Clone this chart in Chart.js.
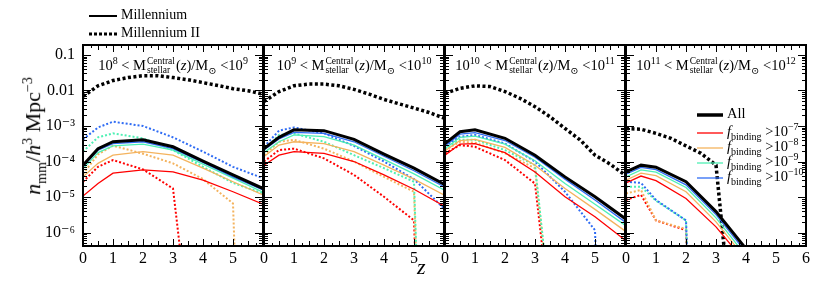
<!DOCTYPE html>
<html>
<head>
<meta charset="utf-8">
<script src="https://cdn.jsdelivr.net/npm/chart.js@4.4.1/dist/chart.umd.min.js"></script>
<style>
  html, body { margin: 0; padding: 0; background: #fff; }
  #wrap { position: relative; width: 831px; height: 283px; overflow: hidden;
          font-family: "Liberation Serif", "DejaVu Serif", serif; color: #000; }
  canvas { position: absolute; top: 0; }
  .plabel { position: absolute; top: 52px; width: 180px; text-align: center; font-size: 14.5px; white-space: nowrap; line-height: 17px; }
  .stack { display: inline-flex; flex-direction: column; vertical-align: middle; font-size: 9.5px; line-height: 9px; margin: 0 1px; text-align: left; position: relative; top: -1px; }
  .plabel sup, .plabel sub { font-size: 10px; }
  #ytitle { position: absolute; left: 35px; top: 136px; transform: translate(-50%, -50%) rotate(-90deg);
            font-size: 22px; white-space: nowrap; }
  #ytitle sub, #ytitle sup { font-size: 14px; }
  #xtitle { position: absolute; left: 417px; top: 254px; font-size: 22px; font-style: italic; }
  .legtop { position: absolute; left: 89px; font-size: 14px; white-space: nowrap; height: 16px; line-height: 16px; }
  .legtop svg, .leg4 svg { vertical-align: middle; margin-right: 4px; }
  .leg4 { position: absolute; left: 697px; font-size: 14.5px; white-space: nowrap; height: 14px; line-height: 14px; }
  .leg4 sub, .leg4 sup { font-size: 10px; }
</style>
</head>
<body>
<div id="wrap">
  <canvas id="c0" width="240" height="283"></canvas>
  <canvas id="c1" width="240" height="283"></canvas>
  <canvas id="c2" width="240" height="283"></canvas>
  <canvas id="c3" width="240" height="283"></canvas>

  <div class="legtop" style="top:7px"><svg width="28" height="6"><line x1="0" y1="3" x2="28" y2="3" stroke="#000" stroke-width="2"/></svg>Millennium</div>
  <div class="legtop" style="top:25px"><svg width="28" height="6"><line x1="0" y1="3" x2="28" y2="3" stroke="#000" stroke-width="3" stroke-dasharray="3 2"/></svg>Millennium II</div>

  <div class="plabel" style="left:83px">10<sup>8</sup> &lt; M<span class="stack"><span>Central</span><span>stellar</span></span>(<i>z</i>)/M<sub>⊙</sub> &lt;10<sup>9</sup></div>
  <div class="plabel" style="left:264px">10<sup>9</sup> &lt; M<span class="stack"><span>Central</span><span>stellar</span></span>(<i>z</i>)/M<sub>⊙</sub> &lt;10<sup>10</sup></div>
  <div class="plabel" style="left:445px">10<sup>10</sup> &lt; M<span class="stack"><span>Central</span><span>stellar</span></span>(<i>z</i>)/M<sub>⊙</sub> &lt;10<sup>11</sup></div>
  <div class="plabel" style="left:626px">10<sup>11</sup> &lt; M<span class="stack"><span>Central</span><span>stellar</span></span>(<i>z</i>)/M<sub>⊙</sub> &lt;10<sup>12</sup></div>

  <div class="leg4" style="top:106px"><svg width="26" height="6"><line x1="0" y1="3" x2="26" y2="3" stroke="#000" stroke-width="3.5"/></svg>All</div>
  <div class="leg4" style="top:120px"><svg width="26" height="6"><line x1="0" y1="3" x2="26" y2="3" stroke="#ff0000" stroke-width="1.3"/></svg><i>f</i><sub>binding</sub> &gt;10<sup>−7</sup></div>
  <div class="leg4" style="top:135px"><svg width="26" height="6"><line x1="0" y1="3" x2="26" y2="3" stroke="#f4b35e" stroke-width="1.3"/></svg><i>f</i><sub>binding</sub> &gt;10<sup>−8</sup></div>
  <div class="leg4" style="top:150px"><svg width="26" height="6"><line x1="0" y1="3" x2="26" y2="3" stroke="#4ef0b4" stroke-width="1.3"/></svg><i>f</i><sub>binding</sub> &gt;10<sup>−9</sup></div>
  <div class="leg4" style="top:165px"><svg width="26" height="6"><line x1="0" y1="3" x2="26" y2="3" stroke="#2f6cf4" stroke-width="1.3"/></svg><i>f</i><sub>binding</sub> &gt;10<sup>−10</sup></div>

  <div id="ytitle"><i>n</i><sub>mm</sub>/<i>h</i><sup>3</sup> Mpc<sup>−3</sup></div>
  <div id="xtitle">z</div>
</div>

<script>
// redshift snapshots
const zM = [0, 0.5, 1, 2, 3, 4, 5, 6];
const zMII = [0, 0.5, 1, 1.5, 2, 2.5, 3, 3.5, 4, 4.5, 5, 5.5, 6];

// one row per panel (stellar mass bins 1e8-1e9, 1e9-1e10, 1e10-1e11, 1e11-1e12)
// zero counts are kept as 1e-30 so the line falls straight off the log axis
const allMII = [
  [6.8e-3, 1.35e-2, 1.9e-2, 2.3e-2, 2.6e-2, 2.6e-2, 2.3e-2, 2.0e-2, 1.66e-2, 1.38e-2, 1.12e-2, 9.8e-3, 7.9e-3],
  [4.9e-3, 9.3e-3, 1.35e-2, 1.51e-2, 1.51e-2, 1.35e-2, 1.07e-2, 7.9e-3, 5.6e-3, 4.2e-3, 3.2e-3, 2.4e-3, 1.66e-3],
  [8.3e-3, 1.15e-2, 1.35e-2, 1.29e-2, 9.3e-3, 6.0e-3, 3.5e-3, 1.82e-3, 8.5e-4, 4.1e-4, 1.51e-4, 8.5e-5, 4.2e-5],
  [8.5e-4, 8.1e-4, 6.2e-4, 4.5e-4, 2.75e-4, 1.7e-4, 7.9e-5, 4e-9],
];
const allM = [
  [7.9e-5, 2.3e-4, 3.6e-4, 4.1e-4, 2.6e-4, 1.02e-4, 4.2e-5, 1.74e-5],
  [2.3e-4, 4.8e-4, 7.8e-4, 7.4e-4, 4.2e-4, 1.62e-4, 6.5e-5, 2.3e-5],
  [3.2e-4, 6.9e-4, 7.8e-4, 4.5e-4, 1.51e-4, 3.7e-5, 1.02e-5, 2.5e-6],
  [5.1e-5, 7.9e-5, 6.9e-5, 2.7e-5, 3.9e-6, 3.5e-7],
];
const m7 = [
  [1.07e-5, 2.4e-5, 4.7e-5, 5.8e-5, 5.1e-5, 3.0e-5, 1.41e-5, 6.3e-6],
  [7.9e-5, 1.51e-4, 1.9e-4, 1.7e-4, 1.0e-4, 4.2e-5, 1.66e-5, 5.6e-6],
  [1.51e-4, 3.1e-4, 3.2e-4, 1.78e-4, 5.1e-5, 1.02e-5, 2.8e-6, 6.2e-7],
  [2.5e-5, 3.9e-5, 2.9e-5, 9.1e-6, 1.45e-6, 1.4e-7],
];
const m8 = [
  [3.7e-5, 8.9e-5, 1.51e-4, 1.9e-4, 1.51e-4, 6.5e-5, 2.7e-5, 1.15e-5],
  [1.38e-4, 2.9e-4, 3.6e-4, 3.2e-4, 1.9e-4, 7.9e-5, 3.2e-5, 1.15e-5],
  [2.0e-4, 3.9e-4, 4.2e-4, 2.5e-4, 7.9e-5, 1.74e-5, 4.5e-6, 1.12e-6],
  [3.0e-5, 4.7e-5, 4.0e-5, 1.41e-5, 2.0e-6, 1.78e-7],
];
const m9 = [
  [6.2e-5, 1.78e-4, 2.75e-4, 3.1e-4, 2.1e-4, 8.5e-5, 3.4e-5, 1.38e-5],
  [1.78e-4, 3.6e-4, 5.6e-4, 5.0e-4, 2.9e-4, 1.15e-4, 4.5e-5, 1.58e-5],
  [2.3e-4, 4.8e-4, 5.2e-4, 3.1e-4, 1.05e-4, 2.4e-5, 6.3e-6, 1.62e-6],
  [3.7e-5, 5.8e-5, 5.0e-5, 1.86e-5, 2.6e-6, 2.2e-7],
];
const m10 = [
  [7.1e-5, 2.1e-4, 3.2e-4, 3.6e-4, 2.3e-4, 9.5e-5, 3.7e-5, 1.58e-5],
  [2.1e-4, 4.3e-4, 6.6e-4, 6.2e-4, 3.6e-4, 1.41e-4, 5.5e-5, 1.95e-5],
  [2.75e-4, 5.9e-4, 6.5e-4, 3.9e-4, 1.32e-4, 3.2e-5, 8.3e-6, 2.0e-6],
  [4.4e-5, 6.8e-5, 5.9e-5, 2.2e-5, 3.2e-6, 2.8e-7],
];
const mii7 = [
  [2.7e-5, 7.1e-5, 1.1e-4, 6.0e-5, 1.74e-5, 1e-12],
  [1.0e-4, 2.1e-4, 2.3e-4, 1.23e-4, 4.2e-5, 1.02e-5, 2.2e-6, 1e-30],
  [1.7e-4, 2.9e-4, 2.6e-4, 1.1e-4, 2.4e-5, 1e-12],
  [8.3e-6, 1.15e-5, 2.2e-6, 1.17e-6, 1e-30],
];
const mii8 = [
  [4.5e-5, 1.58e-4, 2.8e-4, 1.66e-4, 8.9e-5, 3.2e-5, 6.6e-6, 1e-30],
  [1.51e-4, 3.6e-4, 4.1e-4, 2.3e-4, 1.0e-4, 3.7e-5, 1.41e-5, 1e-30],
  [2.1e-4, 3.6e-4, 3.4e-4, 1.7e-4, 6.5e-5, 1e-12],
  [1.26e-5, 1.58e-5, 2.2e-6, 1.26e-6, 1e-30],
];
const mii9 = [
  [1.9e-4, 4.8e-4, 6.2e-4, 4.5e-4, 2.1e-4, 7.1e-5, 2.5e-5, 1.26e-5],
  [2.1e-4, 5.6e-4, 6.2e-4, 3.6e-4, 1.51e-4, 6.5e-5, 2.7e-5, 1e-30],
  [2.3e-4, 4.1e-4, 4.1e-4, 2.1e-4, 7.9e-5, 1e-12],
  [1.95e-5, 1.95e-5, 7.9e-6, 2.2e-6, 1e-30],
];
const mii10 = [
  [4.2e-4, 9.1e-4, 1.32e-3, 1.0e-3, 4.8e-4, 1.9e-4, 7.1e-5, 3.4e-5],
  [2.6e-4, 7.4e-4, 9.1e-4, 6.2e-4, 2.75e-4, 1.0e-4, 3.2e-5, 4.8e-6],
  [2.75e-4, 5.0e-4, 5.6e-4, 3.2e-4, 1.0e-4, 1.41e-5, 1.17e-6, 1e-30],
  [2.7e-5, 2.5e-5, 8.3e-6, 2.2e-6, 1e-30],
];

const yTickVals = [0.1, 0.01, 1e-3, 1e-4, 1e-5, 1e-6];
const yTickLabels = ['0.1', '0.01', '10⁻³', '10⁻⁴', '10⁻⁵', '10⁻⁶'];
const xTickLabels = ['0', '1', '2', '3', '4', '5', '6'];

const colors = { m7: '#ff0000', m8: '#f4b35e', m9: '#4ef0b4', m10: '#2f6cf4' };
const plotLeft = [83, 264, 445, 626];
const FONT = '"Liberation Serif", "DejaVu Serif", serif';

function pts(zs, vals) {
  return vals.map((v, i) => ({ x: zs[i], y: v })).filter(p => p.y != null);
}

// inward ticks on all four sides plus the black frame
const frameTicks = {
  id: 'frameTicks',
  afterDraw(chart) {
    const { ctx, chartArea: a, scales: { x, y } } = chart;
    ctx.save();
    ctx.strokeStyle = '#000';
    ctx.lineWidth = 1;
    ctx.beginPath();
    for (let k = 0; k <= 24; k++) {
      const px = Math.round(x.getPixelForValue(k / 4)) + 0.5;
      const len = k % 4 === 0 ? 7 : (k % 2 === 0 ? 5 : 3);
      ctx.moveTo(px, a.bottom); ctx.lineTo(px, a.bottom - len);
      ctx.moveTo(px, a.top); ctx.lineTo(px, a.top + len);
    }
    for (let e = -7; e <= -1; e++) {
      for (let m = 1; m <= 9; m++) {
        const v = m * Math.pow(10, e);
        if (v < y.min || v > y.max) continue;
        const py = Math.round(y.getPixelForValue(v)) + 0.5;
        const len = m === 1 ? 8 : 4;
        ctx.moveTo(a.left, py); ctx.lineTo(a.left + len, py);
        ctx.moveTo(a.right, py); ctx.lineTo(a.right - len, py);
      }
    }
    ctx.stroke();
    ctx.lineWidth = 2;
    ctx.strokeRect(a.left, a.top, a.right - a.left, a.bottom - a.top);
    ctx.restore();
  },
};

for (let p = 0; p < 4; p++) {
  const canvas = document.getElementById('c' + p);
  canvas.style.left = (plotLeft[p] - 45) + 'px';

  const solid = (label, vals, color, w) => ({
    label, data: pts(zM, vals), borderColor: color, borderWidth: w,
    pointRadius: 0, tension: 0, fill: false,
  });
  const dotted = (label, vals, zs, color, w, dash) => ({
    label, data: pts(zs, vals), borderColor: color, borderWidth: w, borderDash: dash,
    pointRadius: 0, tension: 0, fill: false,
  });

  // first dataset is drawn on top
  const datasets = [
    solid('All', allM[p], '#000', 3),
    solid('f>1e-10', m10[p], colors.m10, 1.3),
    solid('f>1e-9', m9[p], colors.m9, 1.3),
    solid('f>1e-8', m8[p], colors.m8, 1.3),
    solid('f>1e-7', m7[p], colors.m7, 1.3),
    dotted('All MII', allMII[p], zMII, '#000', 3.5, [3, 2.5]),
    dotted('MII f>1e-10', mii10[p], zM, colors.m10, 2, [2, 2]),
    dotted('MII f>1e-9', mii9[p], zM, colors.m9, 2, [2, 2]),
    dotted('MII f>1e-8', mii8[p], zM, colors.m8, 2, [2, 2]),
    dotted('MII f>1e-7', mii7[p], zM, colors.m7, 2, [2, 2]),
  ];

  new Chart(canvas, {
    type: 'line',
    data: { datasets },
    plugins: [frameTicks],
    options: {
      responsive: false,
      animation: false,
      devicePixelRatio: 1,
      layout: { padding: { top: 45, right: 15, left: 0, bottom: 0 } },
      plugins: { legend: { display: false }, tooltip: { enabled: false } },
      scales: {
        x: {
          type: 'linear', min: 0, max: 6,
          grid: { display: false, drawTicks: false },
          border: { display: false },
          afterFit: (s) => { s.height = 37; },
          ticks: {
            stepSize: 1, padding: 3, color: '#000', autoSkip: false, maxRotation: 0,
            font: { family: FONT, size: 16 },
            callback: (v) => (p < 3 && v === 6) ? '' : xTickLabels[v],
          },
        },
        y: {
          type: 'logarithmic', min: 4.2e-7, max: 0.19,
          grid: { display: false, drawTicks: false },
          border: { display: false },
          afterFit: (s) => { s.width = 45; },
          afterBuildTicks: (s) => { s.ticks = yTickVals.map(v => ({ value: v })); },
          ticks: {
            display: p === 0, padding: 8, color: '#000',
            font: { family: FONT, size: 16 },
            callback: (v, i) => yTickLabels[i],
          },
        },
      },
    },
  });
}
</script>
</body>
</html>
